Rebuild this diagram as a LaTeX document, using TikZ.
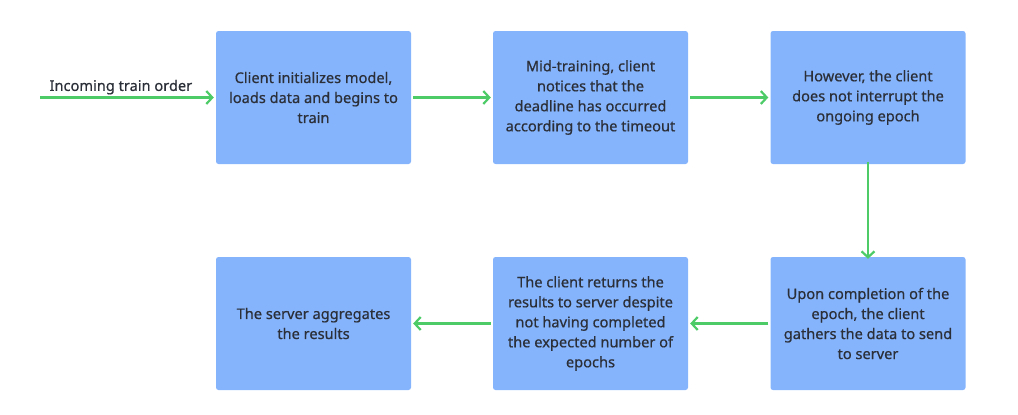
\documentclass[tikz,border=0pt]{standalone}
\usepackage{fontspec}
\setmainfont{Noto Sans}[FakeBold=0.6]
\usetikzlibrary{arrows.meta}
\definecolor{boxblue}{HTML}{86B4FC}
\definecolor{arrgreen}{HTML}{4CCB67}
\definecolor{txt}{HTML}{2B2F38}
\begin{document}
\begin{tikzpicture}[x=1pt,y=-1pt,
  stepbox/.style={fill=boxblue, draw=none, rounded corners=2.5pt, minimum width=195pt, minimum height=133pt, align=center, inner sep=0pt, text=txt, font=\fontsize{14.6}{20}\selectfont},
  flow/.style={draw=arrgreen, line width=2.2pt, -{Straight Barb[length=6pt,width=13pt,line width=2.2pt]}}]
\useasboundingbox (0,0) rectangle (1018,415);
\node[stepbox] (b1) at (313.5,97.5) {Client initializes model,\\loads data and begins to\\train};
\node[stepbox] (b2) at (590.5,97.5) {Mid-training, client\\notices that the\\deadline has occurred\\according to the timeout};
\node[stepbox] (b3) at (868,97.5) {However, the client\\does not interrupt the\\ongoing epoch};
\node[stepbox] (b6) at (868,323.5) {Upon completion of the\\epoch, the client\\gathers the data to send\\to server};
\node[stepbox] (b5) at (590.5,323.5) {The client returns the\\results to server despite\\not having completed\\the expected number of\\epochs};
\node[stepbox] (b4) at (313.5,323.5) {The server aggregates\\the results};
\coordinate (start) at (40,97.5);
\draw[flow] (start) -- node[above=1pt, text=txt, font=\fontsize{14.6}{16}\selectfont, inner sep=1pt, xshift=-6pt] {Incoming train order} ([xshift=-2pt]b1.west);
\draw[flow] ([xshift=2pt]b1.east) -- ([xshift=-2pt]b2.west);
\draw[flow] ([xshift=2pt]b2.east) -- ([xshift=-2pt]b3.west);
\draw[flow] ([yshift=2pt]b3.south) -- ([yshift=-2pt]b6.north);
\draw[flow] ([xshift=-2pt]b6.west) -- ([xshift=2pt]b5.east);
\draw[flow] ([xshift=-2pt]b5.west) -- ([xshift=2pt]b4.east);
\end{tikzpicture}
\end{document}
